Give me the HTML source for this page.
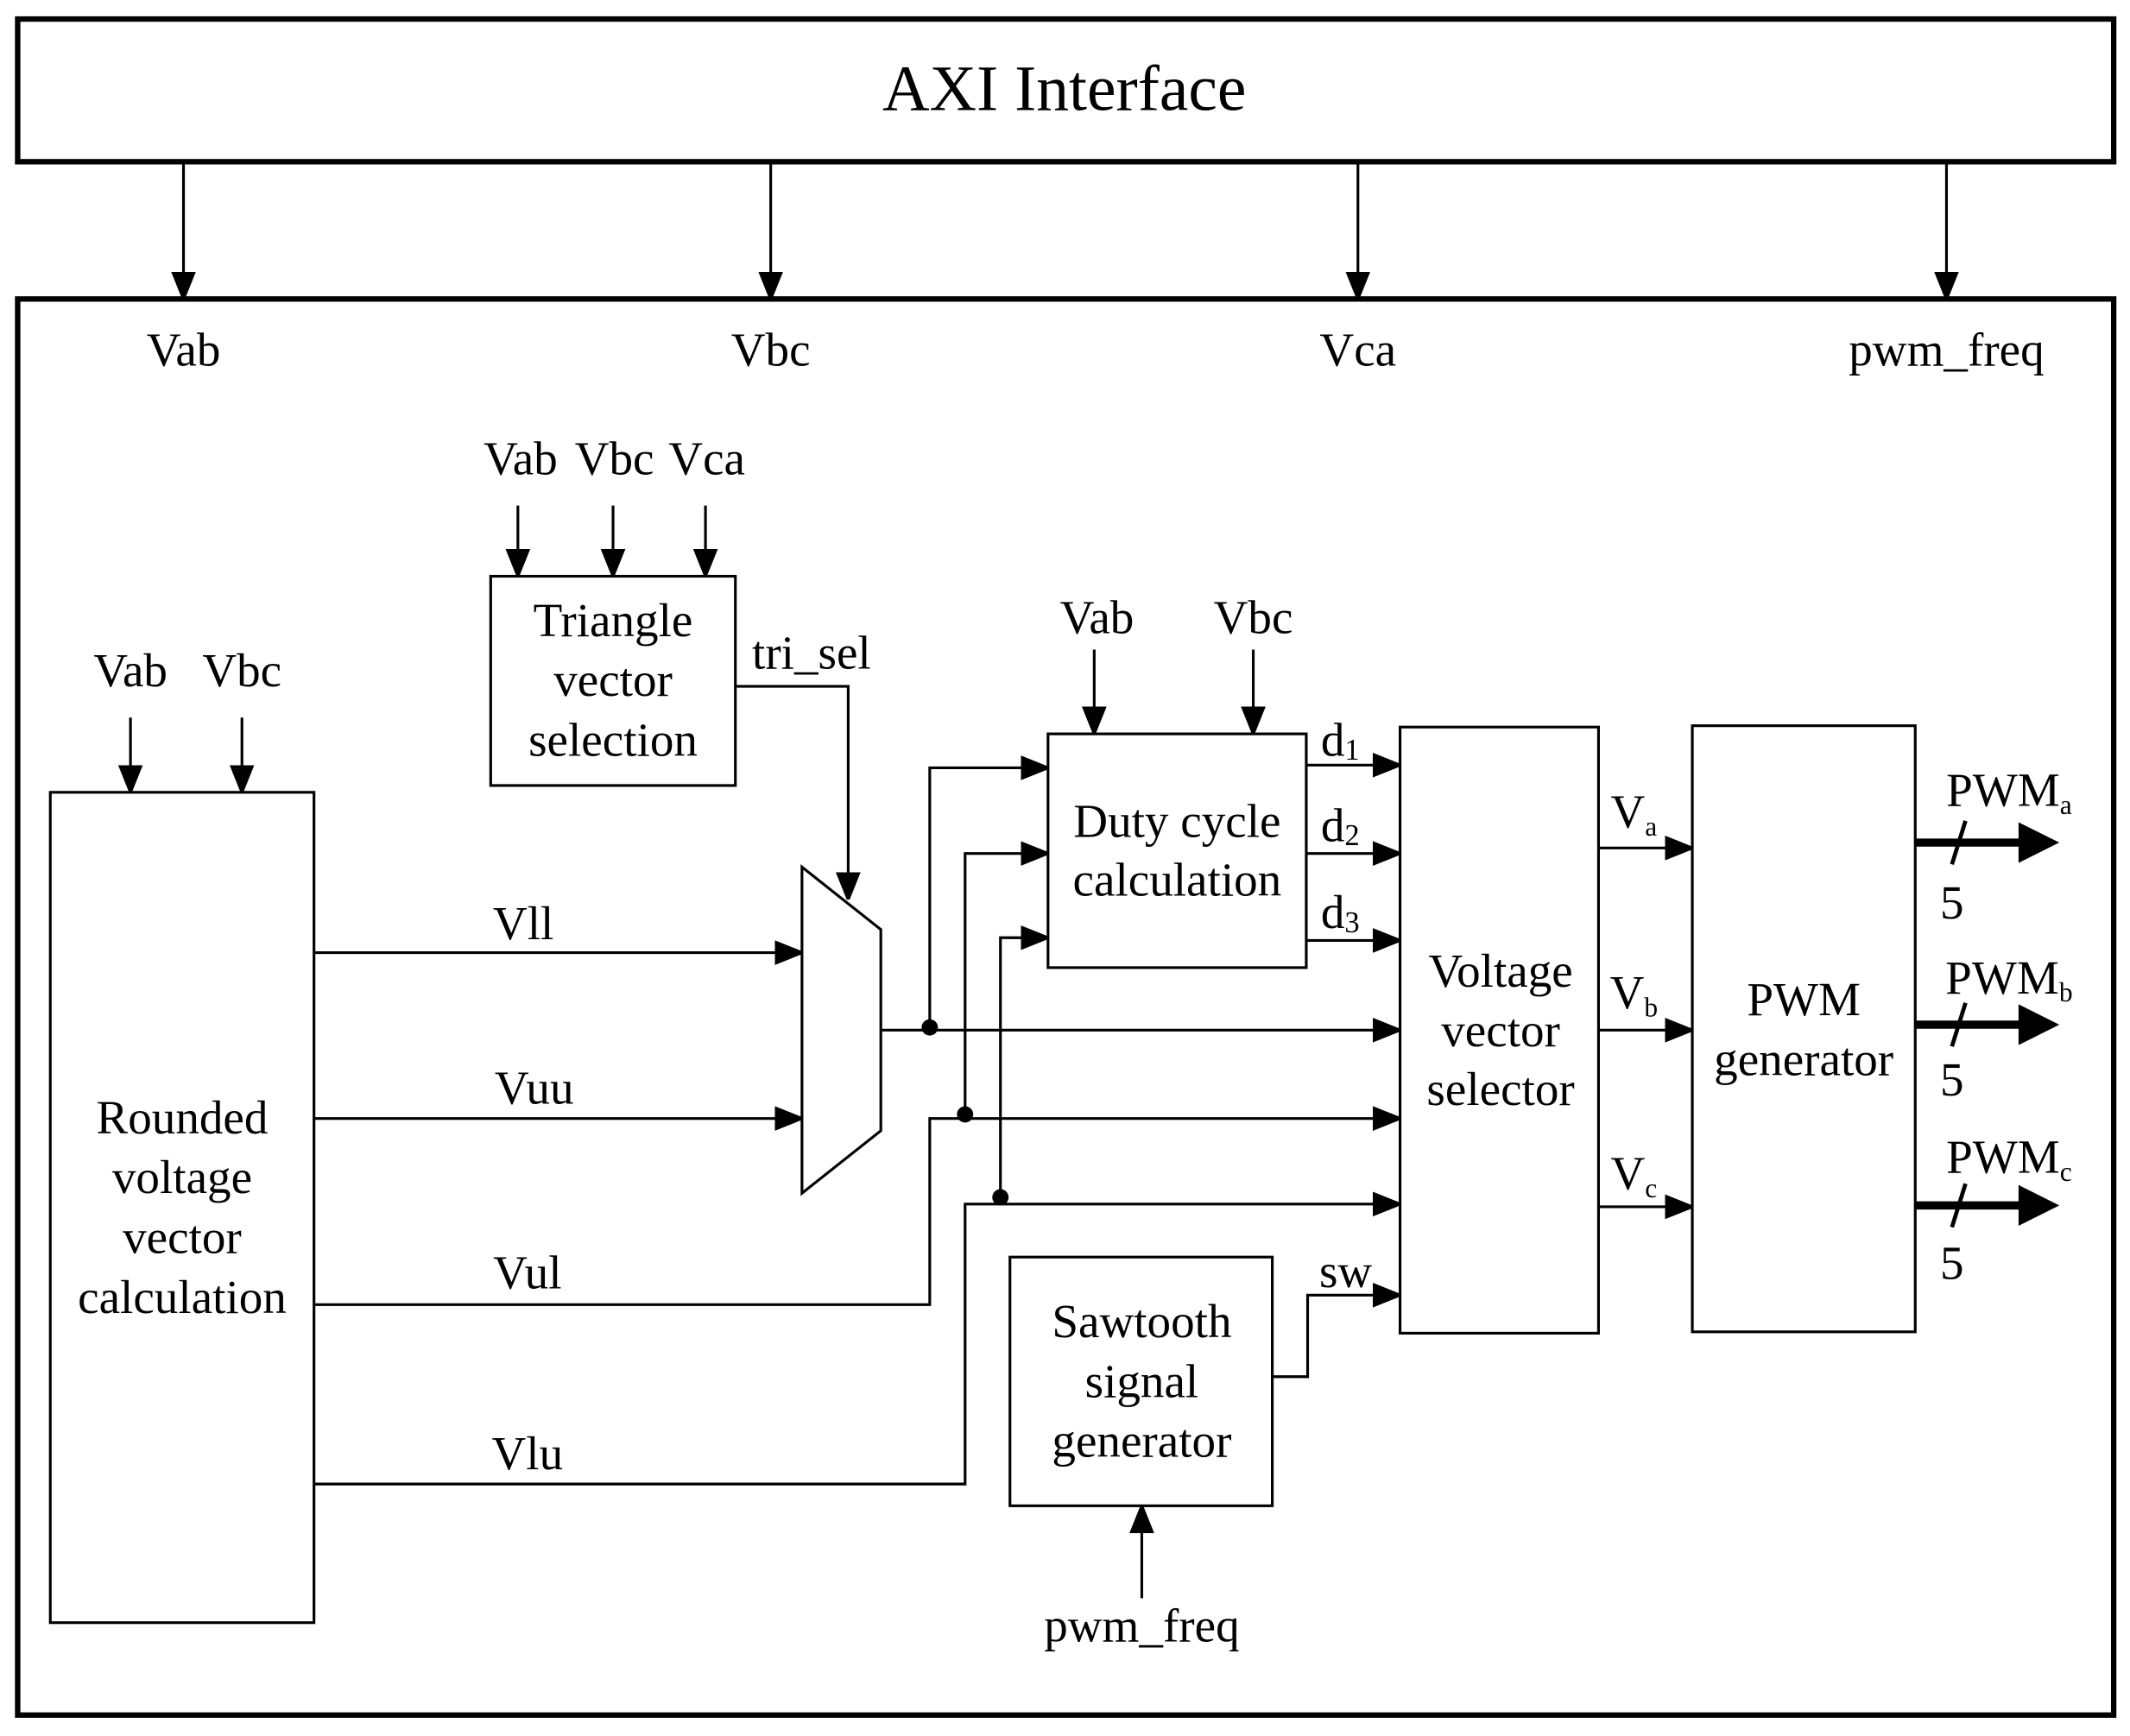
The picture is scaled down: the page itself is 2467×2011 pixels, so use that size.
<!DOCTYPE html>
<html><head><style>html,body{margin:0;padding:0;background:#fff}svg{display:block}</style></head>
<body>
<svg width="2467" height="2011" viewBox="0 0 1567 1277.4" preserveAspectRatio="none" xmlns="http://www.w3.org/2000/svg" font-family="Liberation Serif, serif" font-size="35" text-anchor="middle">
<g fill="none" stroke="#000" stroke-width="2">
<rect x="13" y="14" width="1542" height="105" stroke-width="4"/>
<rect x="13" y="220" width="1542" height="1042" stroke-width="4"/>
<rect x="361" y="424" width="180" height="154"/>
<rect x="37" y="583" width="194" height="611"/>
<rect x="771" y="540" width="190" height="172"/>
<rect x="1030" y="535" width="146" height="446"/>
<rect x="1245" y="534" width="164" height="446"/>
<rect x="743" y="925" width="193" height="183"/>
<polygon points="590,638 648,684 648,832 590,878"/>
</g>
<g fill="none" stroke="#000" stroke-width="2">
<defs><marker id="b" markerWidth="20" markerHeight="20" refX="20" refY="10" orient="auto" markerUnits="userSpaceOnUse" viewBox="0 0 20 20"><path d="M0,2L20,10L0,18z" fill="#000"/></marker></defs>
<g marker-end="url(#b)">
<line x1="135" y1="119" x2="135" y2="220"/>
<line x1="567" y1="119" x2="567" y2="220"/>
<line x1="999" y1="119" x2="999" y2="220"/>
<line x1="1432" y1="119" x2="1432" y2="220"/>
<line x1="381" y1="372" x2="381" y2="424"/>
<line x1="451" y1="372" x2="451" y2="424"/>
<line x1="519" y1="372" x2="519" y2="424"/>
<line x1="96" y1="528" x2="96" y2="583"/>
<line x1="178" y1="528" x2="178" y2="583"/>
<line x1="805" y1="478" x2="805" y2="540"/>
<line x1="922" y1="478" x2="922" y2="540"/>
<polyline points="541,505 624,505 624,662"/>
<line x1="231" y1="701" x2="590" y2="701"/>
<line x1="231" y1="823" x2="590" y2="823"/>
<line x1="648" y1="758" x2="1030" y2="758"/>
<polyline points="231,960 684,960 684,823 1030,823"/>
<polyline points="231,1092 710,1092 710,886 1030,886"/>
<polyline points="684,756 684,565 771,565"/>
<polyline points="710,820 710,628 771,628"/>
<polyline points="736,881 736,690 771,690"/>
<line x1="961" y1="563" x2="1030" y2="563"/>
<line x1="961" y1="628" x2="1030" y2="628"/>
<line x1="961" y1="692" x2="1030" y2="692"/>
<line x1="1176" y1="624" x2="1245" y2="624"/>
<line x1="1176" y1="758" x2="1245" y2="758"/>
<line x1="1176" y1="888" x2="1245" y2="888"/>
<polyline points="936,1013 962,1013 962,953 1030,953"/>
<line x1="840" y1="1176" x2="840" y2="1108"/>
</g>
</g>
<g stroke="#000" stroke-width="6">
<line x1="1409" y1="620" x2="1490" y2="620"/>
<line x1="1409" y1="754" x2="1490" y2="754"/>
<line x1="1409" y1="887" x2="1490" y2="887"/>
</g>
<g fill="#000">
<path d="M1485,605L1515,620L1485,635z"/>
<path d="M1485,739L1515,754L1485,769z"/>
<path d="M1485,872L1515,887L1485,902z"/>
<circle cx="684" cy="756" r="6"/>
<circle cx="710" cy="820" r="6"/>
<circle cx="736" cy="881" r="6"/>
</g>
<g stroke="#000" stroke-width="3">
<line x1="1446" y1="604" x2="1436" y2="636"/>
<line x1="1446" y1="738" x2="1436" y2="770"/>
<line x1="1446" y1="871" x2="1436" y2="903"/>
</g>
<g fill="#000">
<text x="783" y="81" font-size="48">AXI Interface</text>
<text x="135" y="269">Vab</text>
<text x="567" y="269">Vbc</text>
<text x="999" y="269">Vca</text>
<text x="1432" y="269">pwm_freq</text>
<text x="383" y="349">Vab</text>
<text x="452" y="349">Vbc</text>
<text x="520" y="349">Vca</text>
<text x="451" y="468">Triangle</text>
<text x="451" y="512">vector</text>
<text x="451" y="556">selection</text>
<text x="597" y="492">tri_sel</text>
<text x="96" y="505">Vab</text>
<text x="178" y="505">Vbc</text>
<text x="134" y="834">Rounded</text>
<text x="134" y="878">voltage</text>
<text x="134" y="922">vector</text>
<text x="134" y="966">calculation</text>
<text x="385" y="691">Vll</text>
<text x="393" y="812">Vuu</text>
<text x="388" y="948">Vul</text>
<text x="388" y="1081">Vlu</text>
<text x="807" y="466">Vab</text>
<text x="922" y="466">Vbc</text>
<text x="866" y="616">Duty cycle</text>
<text x="866" y="659">calculation</text>
<text x="986" y="556">d<tspan font-size="22" dy="3">1</tspan></text>
<text x="986" y="619">d<tspan font-size="22" dy="3">2</tspan></text>
<text x="986" y="683">d<tspan font-size="22" dy="3">3</tspan></text>
<text x="1104" y="726">Voltage</text>
<text x="1104" y="770">vector</text>
<text x="1104" y="813">selector</text>
<text x="1202" y="609">V<tspan font-size="20" dy="6">a</tspan></text>
<text x="1202" y="742">V<tspan font-size="20" dy="6">b</tspan></text>
<text x="1202" y="875">V<tspan font-size="20" dy="6">c</tspan></text>
<text x="1327" y="747">PWM</text>
<text x="1327" y="791">generator</text>
<text x="1478" y="593">PWM<tspan font-size="20" dy="6">a</tspan></text>
<text x="1478" y="731">PWM<tspan font-size="20" dy="6">b</tspan></text>
<text x="1478" y="863">PWM<tspan font-size="20" dy="6">c</tspan></text>
<text x="1436" y="676">5</text>
<text x="1436" y="806">5</text>
<text x="1436" y="941">5</text>
<text x="840" y="984">Sawtooth</text>
<text x="840" y="1028">signal</text>
<text x="840" y="1072">generator</text>
<text x="990" y="947">sw</text>
<text x="840" y="1208">pwm_freq</text>
</g>
</svg>
</body></html>
